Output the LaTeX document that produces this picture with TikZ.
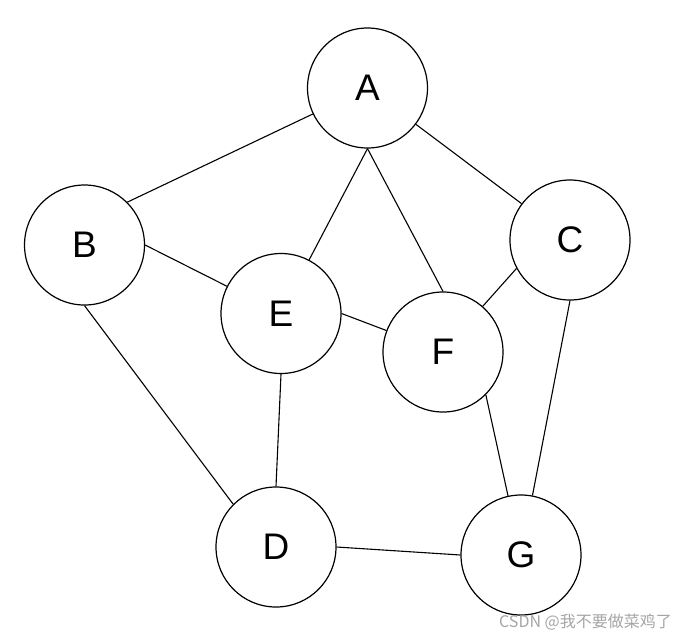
\documentclass[tikz,border=0pt]{standalone}
\usepackage{fontspec}
\setmainfont{Liberation Sans}
\newfontfamily\cjkfont{Noto Sans CJK SC}
\definecolor{wmgray}{RGB}{165,165,165}
\begin{document}
\begin{tikzpicture}[x=1pt,y=-1pt,
  vertex/.style={circle,draw=black,line width=1.2pt,minimum size=120pt,inner sep=0pt,font=\fontsize{37}{40}\selectfont},
  edge/.style={draw=black,line width=1.1pt}]
\useasboundingbox (0,0) rectangle (688,638);
\node[vertex] (A) at (367.5,88) {A};
\node[vertex] (B) at (84.5,245) {B};
\node[vertex] (C) at (570,240) {C};
\node[vertex] (E) at (281,313.5) {E};
\node[vertex] (F) at (443,352) {F};
\node[vertex] (D) at (276,547) {D};
\node[vertex] (G) at (521,555) {G};
\draw[edge] (B.north east) -- (A);
\draw[edge] (A) -- (C);
\draw[edge] (A.south) -- (E);
\draw[edge] (A.south) -- (F.north);
\draw[edge] (B.east) -- (E);
\draw[edge] (B.south) -- (D.north west);
\draw[edge] (E.south) -- (D.north);
\draw[edge] (E.east) -- (F);
\draw[edge] (C.208) -- (F.49);
\draw[edge] (C.south) -- (G);
\draw[edge] (F.south east) -- (G);
\draw[edge] (D.east) -- (G.west);
\node[anchor=east,inner sep=0pt,text=wmgray,font=\cjkfont\fontsize{16}{18}\selectfont] (wm) at (672,622) {CSDN @我不要做菜鸡了};
\end{tikzpicture}
\end{document}
